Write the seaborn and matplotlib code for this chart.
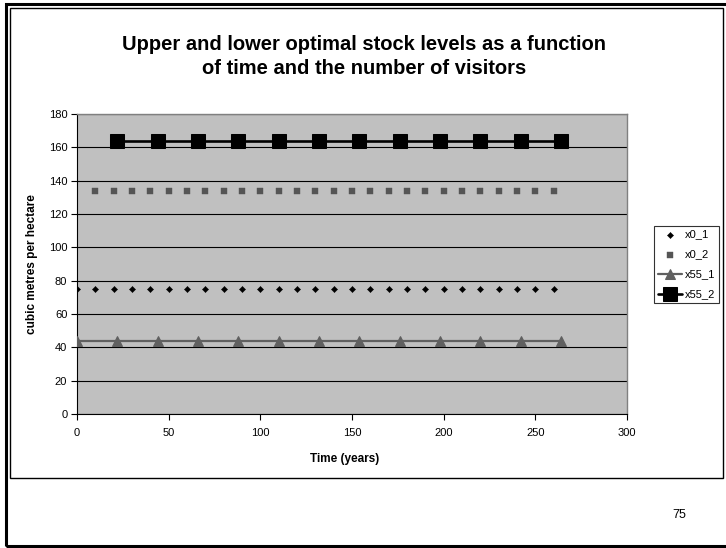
import matplotlib
matplotlib.use("Agg")
import matplotlib.pyplot as plt
from matplotlib.patches import Rectangle
import pandas as pd
import seaborn as sns

# Series data: time (years) and stock levels (cubic metres per hectare)
x0_1_time = [0, 10, 20, 30, 40, 50, 60, 70, 80, 90, 100, 110, 120, 130,
             140, 150, 160, 170, 180, 190, 200, 210, 220, 230, 240, 250, 260]
x0_1_level = [75] * len(x0_1_time)

x0_2_time = [10, 20, 30, 40, 50, 60, 70, 80, 90, 100, 110, 120, 130,
             140, 150, 160, 170, 180, 190, 200, 210, 220, 230, 240, 250, 260]
x0_2_level = [134] * len(x0_2_time)

x55_1_time = [0, 22, 44, 66, 88, 110, 132, 154, 176, 198, 220, 242, 264]
x55_1_level = [44] * len(x55_1_time)

x55_2_time = [22, 44, 66, 88, 110, 132, 154, 176, 198, 220, 242, 264]
x55_2_level = [164] * len(x55_2_time)

y_ticks = [0, 20, 40, 60, 80, 100, 120, 140, 160, 180]
x_ticks = [0, 50, 100, 150, 200, 250, 300]

title_text = "Upper and lower optimal stock levels as a function\nof time and the number of visitors"
x_label = "Time (years)"
y_label = "cubic metres per hectare"
page_number = "75"

sns.set_theme(style="white")
plt.rcParams["font.family"] = ["Liberation Sans", "DejaVu Sans"]
plt.rcParams["text.color"] = "black"
plt.rcParams["axes.labelcolor"] = "black"
plt.rcParams["xtick.color"] = "black"
plt.rcParams["ytick.color"] = "black"

W, H = 726, 548
fig = plt.figure(figsize=(W / 100, H / 100), dpi=100)
fig.patch.set_facecolor("white")


def px_box(x0, y0, x1, y1):
    """Convert a pixel box (top-left origin) into figure fraction coordinates."""
    return [x0 / W, 1 - y1 / H, (x1 - x0) / W, (y1 - y0) / H]


# Slide frame (its right side runs past the page edge) and chart area border
fig.patches.append(Rectangle((6 / W, 1 - 546 / H), (740 - 6) / W, (546 - 4) / H,
                             transform=fig.transFigure, fill=False,
                             edgecolor="black", linewidth=2.2, zorder=0))
fig.patches.append(Rectangle((10 / W, 1 - 478 / H), (723 - 10) / W, (478 - 8) / H,
                             transform=fig.transFigure, fill=False,
                             edgecolor="black", linewidth=1.0, zorder=0))

ax = fig.add_axes(px_box(77, 114, 627, 414))
ax.set_facecolor("#C0C0C0")

df_a = pd.DataFrame({"t": x0_1_time, "v": x0_1_level})
df_b = pd.DataFrame({"t": x0_2_time, "v": x0_2_level})
df_c = pd.DataFrame({"t": x55_1_time, "v": x55_1_level})
df_d = pd.DataFrame({"t": x55_2_time, "v": x55_2_level})

sns.scatterplot(data=df_a, x="t", y="v", ax=ax, marker="D", s=10,
                color="black", edgecolor="black", linewidth=0.3,
                label="x0_1", zorder=4)
sns.scatterplot(data=df_b, x="t", y="v", ax=ax, marker="s", s=14,
                color="#555555", edgecolor="#555555", linewidth=0.3,
                label="x0_2", zorder=4)
sns.lineplot(data=df_c, x="t", y="v", ax=ax, marker="^", markersize=7,
             color="#606060", markeredgecolor="#606060", linewidth=1.6,
             label="x55_1", zorder=4)
sns.lineplot(data=df_d, x="t", y="v", ax=ax, marker="s", markersize=9.5,
             color="black", markeredgecolor="black", linewidth=1.9,
             label="x55_2", zorder=4)

ax.set_xlim(0, 300)
ax.set_ylim(0, 180)
ax.set_xticks(x_ticks)
ax.set_yticks(y_ticks)
ax.set_xticklabels([str(v) for v in x_ticks], fontsize=8)
ax.set_yticklabels([str(v) for v in y_ticks], fontsize=8)
ax.tick_params(axis="both", which="major", direction="out", length=4,
               width=0.8, color="black", pad=3, bottom=True, left=True)
ax.tick_params(axis="x", pad=6)

ax.yaxis.grid(True, color="black", linewidth=0.8)
ax.xaxis.grid(False)
ax.set_axisbelow(True)

for side in ("left", "bottom"):
    ax.spines[side].set_color("black")
    ax.spines[side].set_linewidth(0.8)
for side in ("top", "right"):
    ax.spines[side].set_color("#808080")
    ax.spines[side].set_linewidth(1.0)
    ax.spines[side].set_visible(True)

ax.set_xlabel(x_label, fontsize=8.5, fontweight="bold")
ax.xaxis.set_label_coords((345 - 77) / 550, -(453 - 414) / 300)
ax.set_ylabel(y_label, fontsize=8.5, fontweight="bold")
ax.yaxis.set_label_coords(-(77 - 38) / 550, 0.5)

handles, labels = ax.get_legend_handles_labels()
ax.get_legend().remove()
leg = fig.legend(handles, labels, loc="center",
                 bbox_to_anchor=((653 + 720) / 2 / W, 1 - (226 + 303) / 2 / H),
                 frameon=True, fancybox=False, fontsize=8, handlelength=2.2,
                 handletextpad=0.2, labelspacing=0.9, borderpad=0.35,
                 borderaxespad=0)
leg.get_frame().set_edgecolor("black")
leg.get_frame().set_linewidth(0.8)

fig.text(364 / W, 1 - 56.5 / H, title_text, ha="center", va="center",
         fontsize=14.5, fontweight="bold", linespacing=1.35)
fig.text(679 / W, 1 - 515 / H, page_number, ha="center", va="center",
         fontsize=9)

fig.savefig("out.png", dpi=100, facecolor="white")
